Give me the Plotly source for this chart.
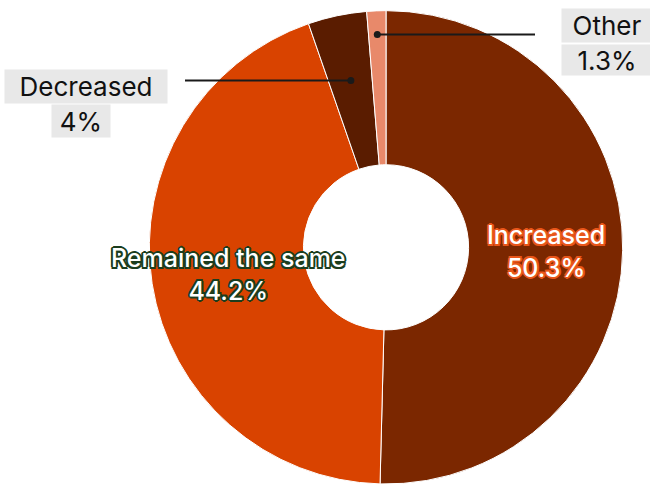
import math
import plotly.graph_objects as go

# ---- data ----
labels = ["Increased", "Remained the same", "Decreased", "Other"]
values = [50.3, 44.2, 4.0, 1.3]
pct_text = ["50.3%", "44.2%", "4%", "1.3%"]
colors = ["#7b2700", "#d94300", "#5a1c00", "#e8896a"]

W, H = 650, 484
DOM_X = [0.2292, 0.9585]
DOM_Y = [0.0, 0.978]
HOLE = 0.349

# geometry derived from domain (pixels)
cx = (DOM_X[0] + DOM_X[1]) / 2 * W
dom_h = (DOM_Y[1] - DOM_Y[0]) * H
dom_w = (DOM_X[1] - DOM_X[0]) * W
R = min(dom_h, dom_w) / 2
cy = H - (DOM_Y[0] + DOM_Y[1]) / 2 * H

total = sum(values)
mid_angles = []
cum = 0.0
for v in values:
    mid_angles.append((cum + v / 2) / total * 2 * math.pi)
    cum += v


def polar_px(angle, rfrac):
    return cx + rfrac * R * math.sin(angle), cy - rfrac * R * math.cos(angle)


def px2paper(x, y):
    return x / W, 1 - y / H


fig = go.Figure(
    go.Pie(
        labels=labels,
        values=values,
        sort=False,
        direction="clockwise",
        rotation=0,
        hole=HOLE,
        marker=dict(colors=colors, line=dict(color="white", width=1)),
        textinfo="none",
        hoverinfo="label+percent",
        showlegend=False,
        domain=dict(x=DOM_X, y=DOM_Y),
    )
)

annotations = []
FONT = "Inter, Noto Sans, sans-serif"

# inside labels
inside = {0: "#e8561a", 1: "#1b3d1e"}
for i, oc in inside.items():
    lx, ly = polar_px(mid_angles[i], 0.675)
    ly += 2.5
    sh = ", ".join(
        f"{dx}px {dy}px 0 {oc}"
        for dx, dy in [(-2, 0), (2, 0), (0, -2), (0, 2), (-1.5, -1.5), (1.5, -1.5), (-1.5, 1.5), (1.5, 1.5)]
    )
    x, y = px2paper(lx, ly)
    annotations.append(dict(
        x=x, y=y, xref="paper", yref="paper", text=f"{labels[i]}<br>{pct_text[i]}",
        showarrow=False, xanchor="center", yanchor="middle", align="center", borderpad=0,
        font=dict(family=FONT, size=25, color="white", weight=500, shadow=sh),
    ))

# outside labels with grey boxes
boxes = [
    (2, labels[2], 86, 86.5, 162, 33),
    (2, pct_text[2], 81, 121, 58, 32),
    (3, labels[3], 607, 25.5, 90, 33),
    (3, pct_text[3], 607, 60, 90, 30),
]
for _, txt, bx, by, bw, bh in boxes:
    x, y = px2paper(bx, by)
    annotations.append(dict(
        x=x, y=y, xref="paper", yref="paper", text=txt, showarrow=False,
        xanchor="center", yanchor="middle", width=bw, height=bh,
        bgcolor="#e8e8e8", borderpad=0,
        font=dict(family=FONT, size=26, color="#111111"),
    ))

# leader lines
shapes = []
leaders = [(2, 0.72, 185), (3, 0.90, 535)]
for i, rf, tail_x in leaders:
    dx, dy = polar_px(mid_angles[i], rf)
    x0, y0 = px2paper(dx, dy)
    x1, _ = px2paper(tail_x, dy)
    shapes.append(dict(type="line", xref="paper", yref="paper", x0=x0, y0=y0, x1=x1, y1=y0,
                       line=dict(color="#1a1a1a", width=2)))
    r = 3.5
    shapes.append(dict(type="circle", xref="paper", yref="paper",
                       x0=(dx - r) / W, x1=(dx + r) / W, y0=1 - (dy + r) / H, y1=1 - (dy - r) / H,
                       fillcolor="#1a1a1a", line=dict(width=0)))

fig.update_layout(
    width=W, height=H,
    margin=dict(l=0, r=0, t=0, b=0),
    paper_bgcolor="white",
    annotations=annotations,
    shapes=shapes,
)

fig.write_html("out.html")
